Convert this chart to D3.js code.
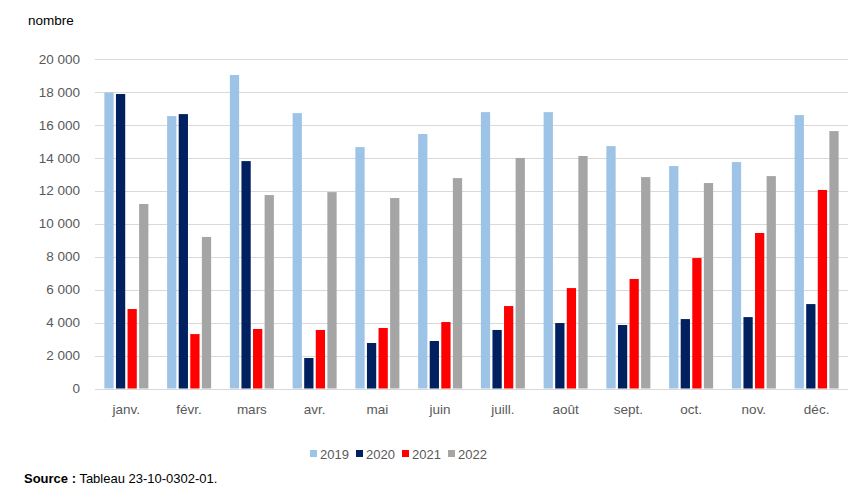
<!DOCTYPE html>
<html>
<head>
<meta charset="utf-8">
<script src="https://cdn.jsdelivr.net/npm/d3@7"></script>
<style>
  body { margin: 0; background: #fff; }
  svg text { font-family: "Liberation Sans", Arial, sans-serif; }
</style>
</head>
<body>
<div id="chart"></div>
<script>
const months = ["janv.", "févr.", "mars", "avr.", "mai", "juin", "juill.", "août", "sept.", "oct.", "nov.", "déc."];
const years = ["2019", "2020", "2021", "2022"];
const colors = ["#9DC3E6", "#002060", "#FF0000", "#A5A5A5"];

const v2019 = [17950, 16520, 19010, 16700, 14640, 15430, 16760, 16760, 14700, 13490, 13730, 16580];
const v2020 = [17860, 16640, 13790, 1850, 2760, 2880, 3550, 3970, 3850, 4210, 4330, 5120];
const v2021 = [4820, 3300, 3610, 3550, 3670, 4030, 5000, 6090, 6640, 7910, 9430, 12040];
const v2022 = [11190, 9190, 11730, 11910, 11550, 12760, 13980, 14100, 12820, 12460, 12880, 15610];
const yTicks = [0, 2000, 4000, 6000, 8000, 10000, 12000, 14000, 16000, 18000, 20000];

const series = [v2019, v2020, v2021, v2022];
const width = 862, height = 497;
const margin = { left: 95, right: 14, top: 58.7, bottom: 108.5 };

const svg = d3.select("#chart").append("svg")
  .attr("width", width)
  .attr("height", height);

const x = d3.scaleBand()
  .domain(months)
  .range([margin.left, width - margin.right]);

const xInner = d3.scaleBand()
  .domain(years)
  .range([0, 44])
  .paddingInner(0.2);

const y = d3.scaleLinear()
  .domain([0, 20000])
  .range([height - margin.bottom, margin.top]);

const fmt = d => d3.format(",")(d).replace(/,/g, "\u00a0");

// grid
svg.append("g")
  .selectAll("line")
  .data(yTicks)
  .join("line")
  .attr("x1", margin.left)
  .attr("x2", width - margin.right)
  .attr("y1", d => Math.round(y(d)) + 0.5)
  .attr("y2", d => Math.round(y(d)) + 0.5)
  .attr("stroke", "#D9D9D9")
  .attr("stroke-width", 1);

// y labels
svg.append("g")
  .selectAll("text")
  .data(yTicks)
  .join("text")
  .attr("x", 80)
  .attr("y", d => y(d))
  .attr("dy", "0.36em")
  .attr("text-anchor", "end")
  .attr("font-size", 13.5)
  .attr("fill", "#595959")
  .text(fmt);

// bars
const groups = svg.append("g")
  .selectAll("g")
  .data(months)
  .join("g")
  .attr("transform", d => `translate(${x(d) + (x.bandwidth() - 44) / 2},0)`);

groups.selectAll("rect")
  .data((m, i) => years.map((yr, j) => ({ yr, j, v: series[j][i] })))
  .join("rect")
  .attr("x", d => xInner(d.yr))
  .attr("width", xInner.bandwidth())
  .attr("y", d => y(d.v))
  .attr("height", d => y(0) - y(d.v))
  .attr("fill", d => colors[d.j]);

// x labels
svg.append("g")
  .selectAll("text")
  .data(months)
  .join("text")
  .attr("x", d => x(d) + x.bandwidth() / 2)
  .attr("y", 414)
  .attr("text-anchor", "middle")
  .attr("font-size", 13.5)
  .attr("fill", "#595959")
  .text(d => d);

// axis title
svg.append("text")
  .attr("x", 28)
  .attr("y", 25)
  .attr("font-size", 13.5)
  .attr("fill", "#000")
  .text("nombre");

// legend
const legend = svg.append("g")
  .selectAll("g")
  .data(years)
  .join("g")
  .attr("transform", (d, i) => `translate(${310 + i * 46},0)`);

legend.append("rect")
  .attr("x", 0)
  .attr("y", 450)
  .attr("width", 7)
  .attr("height", 7)
  .attr("fill", (d, i) => colors[i]);

legend.append("text")
  .attr("x", 10)
  .attr("y", 459)
  .attr("font-size", 13)
  .attr("fill", "#595959")
  .text(d => d);

// source
const src = svg.append("text")
  .attr("x", 24)
  .attr("y", 483)
  .attr("font-size", 13)
  .attr("fill", "#000");
src.append("tspan").attr("font-weight", "bold").text("Source :");
src.append("tspan").text(" Tableau 23-10-0302-01.");
</script>
</body>
</html>
